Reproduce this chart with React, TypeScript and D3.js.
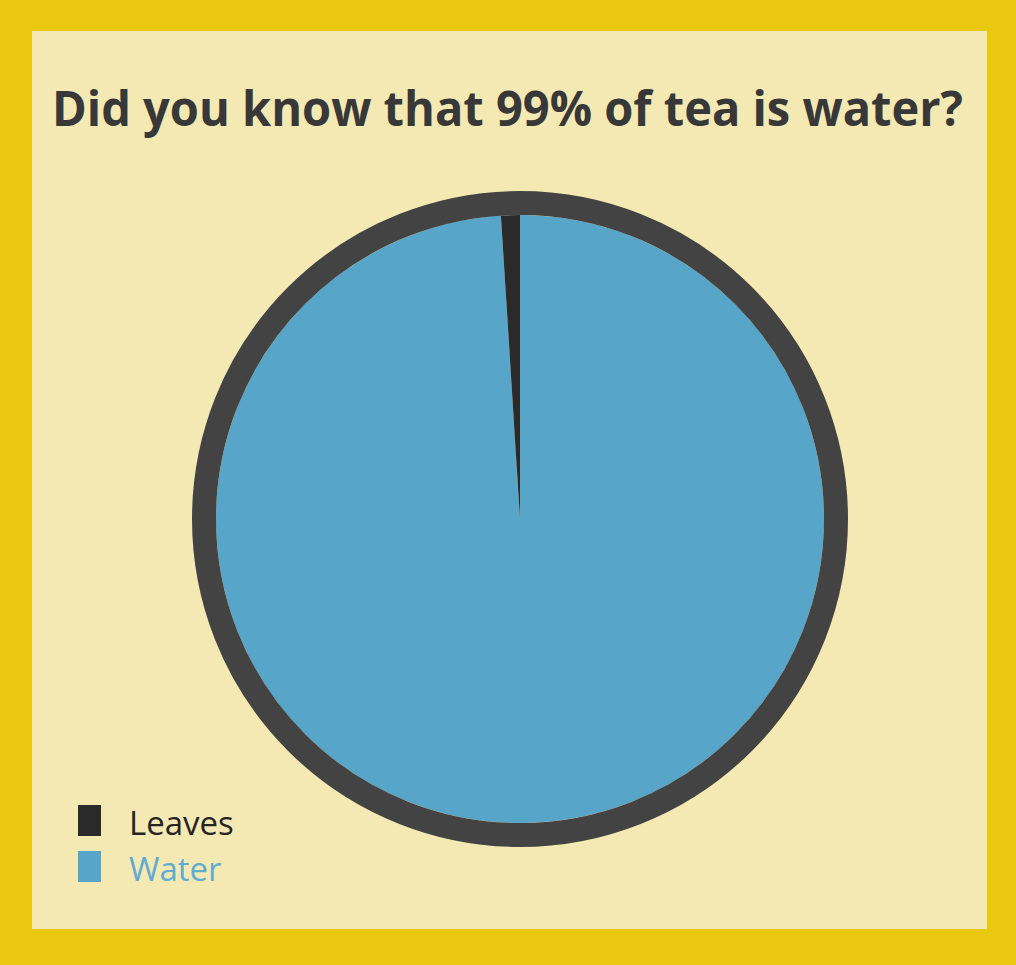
import React, { useRef, useEffect } from 'react';
import * as d3 from 'd3';

const categories = ['Leaves', 'Water'];
const shares = [1, 99];
const sliceColors = ['#2a2a2a', '#57a6c9'];
const labelColors = ['#252525', '#62acd0'];
const titleText = 'Did you know that 99% of tea is water?';

const W = 1016;
const H = 965;

const App: React.FC = () => {
  const svgRef = useRef<SVGSVGElement | null>(null);

  useEffect(() => {
    const svg = d3.select(svgRef.current);
    svg.selectAll('*').remove();

    // yellow backdrop + paper sheet
    svg.append('rect').attr('width', W).attr('height', H).attr('fill', '#e9c80f');
    svg.append('rect')
      .attr('x', 32).attr('y', 31)
      .attr('width', 955).attr('height', 898)
      .attr('fill', '#f4e9b3');

    svg.append('text')
      .attr('x', 52)
      .attr('y', 126)
      .attr('textLength', 911)
      .attr('lengthAdjust', 'spacingAndGlyphs')
      .style('font-family', '"Open Sans", Lato, sans-serif')
      .style('font-weight', 700)
      .style('font-size', '48px')
      .attr('fill', '#383838')
      .text(titleText);

    const data = categories.map((c, i) => ({ category: c, value: shares[i] }));
    const color = d3.scaleOrdinal<string, string>().domain(categories).range(sliceColors);

    const cx = 520;
    const cy = 519;
    const radius = 304;

    const g = svg.append('g').attr('transform', `translate(${cx},${cy})`);

    // Water first so Leaves ends at 12 o'clock
    const pie = d3.pie<typeof data[0]>().sort(null).value(d => d.value);
    const arcs = pie([...data].reverse());
    const arc = d3.arc<d3.PieArcDatum<typeof data[0]>>().innerRadius(0).outerRadius(radius);

    g.selectAll('path.slice')
      .data(arcs)
      .join('path')
      .attr('class', 'slice')
      .attr('d', arc)
      .attr('fill', d => color(d.data.category));

    // thick rim
    g.append('circle')
      .attr('r', radius + 12)
      .attr('fill', 'none')
      .attr('stroke', '#434343')
      .attr('stroke-width', 24);

    // legend
    const legend = svg.append('g').attr('transform', 'translate(78,805)');
    const row = legend.selectAll('g')
      .data(categories)
      .join('g')
      .attr('transform', (_, i) => `translate(0,${i * 46})`);
    row.append('rect')
      .attr('width', 23).attr('height', 31)
      .attr('fill', d => color(d));
    row.append('text')
      .attr('x', 51)
      .attr('y', 30)
      .style('font-family', '"Open Sans", Lato, sans-serif')
      .style('font-size', '33px')
      .attr('fill', (_, i) => labelColors[i])
      .text(d => d);
  }, []);

  return (
    <svg
      ref={svgRef}
      width={W}
      height={H}
      style={{ position: 'absolute', left: 0, top: 0, display: 'block' }}
    />
  );
};

export default App;
